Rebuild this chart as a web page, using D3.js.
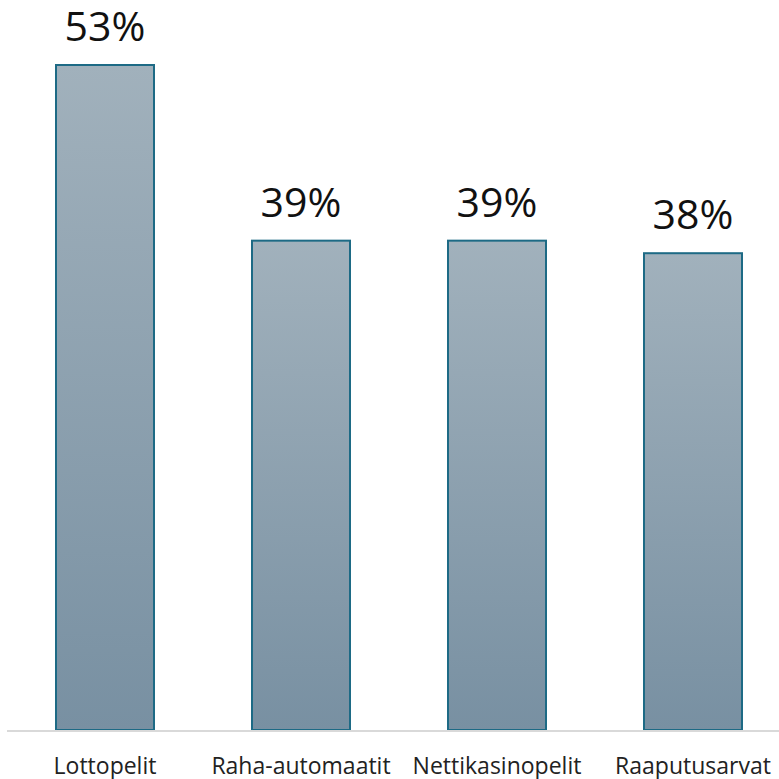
<!DOCTYPE html>
<html lang="fi">
    <head>
        <meta charset="utf-8">
        <title>Pelit</title>
        <script type="text/javascript" src="https://d3js.org/d3.v7.min.js"></script>
        <style type="text/css">
            body { margin: 0; background: #fff; }
        </style>
    </head>
    <body>
        <div id="chart"></div>
        <script type="text/javascript">

            // data
            var categories = ["Lottopelit", "Raha-automaatit", "Nettikasinopelit", "Raaputusarvat"];
            var values = [53, 39, 39, 38];

            var W = 779, H = 779;
            var margin = {top: 0, right: 0, bottom: 49, left: 7};
            var width = W - margin.left - margin.right,
                height = H - margin.top - margin.bottom;

            var svg = d3.select("#chart")
                .append("svg")
                    .attr("width", W)
                    .attr("height", H)
                    .style("font-family", "'Open Sans', 'Noto Sans', sans-serif");

            var defs = svg.append("defs");
            var grad = defs.append("linearGradient")
                .attr("id", "barGrad")
                .attr("x1", 0).attr("y1", 0).attr("x2", 0).attr("y2", 1);
            grad.append("stop").attr("offset", "0%").attr("stop-color", "#a1b1bc");
            grad.append("stop").attr("offset", "100%").attr("stop-color", "#7890a2");

            var g = svg.append("g")
                .attr("transform", "translate(" + margin.left + "," + margin.top + ")");

            var x = d3.scaleBand()
                .domain(categories)
                .range([0, 784])
                .paddingInner(0.5)
                .paddingOuter(0.25);

            var y = d3.scaleLinear()
                .domain([0, 53])
                .range([height, 65]);

            // bars
            g.selectAll("rect.bar")
                .data(values)
                .enter().append("rect")
                    .attr("class", "bar")
                    .attr("x", function(d, i) { return x(categories[i]); })
                    .attr("y", function(d) { return y(d); })
                    .attr("width", x.bandwidth())
                    .attr("height", function(d) { return height - y(d); })
                    .attr("fill", "url(#barGrad)")
                    .attr("stroke", "#1d6a85")
                    .attr("stroke-width", 2);

            // baseline
            g.append("line")
                .attr("x1", 0).attr("x2", W)
                .attr("y1", height + 1).attr("y2", height + 1)
                .attr("stroke", "#d9d9d9")
                .attr("stroke-width", 2);

            // value labels
            g.selectAll("text.val")
                .data(values)
                .enter().append("text")
                    .attr("class", "val")
                    .attr("x", function(d, i) { return x(categories[i]) + x.bandwidth() / 2; })
                    .attr("y", function(d) { return y(d) - 24; })
                    .attr("text-anchor", "middle")
                    .attr("font-size", 41)
                    .attr("fill", "#111")
                    .text(function(d) { return d + "%"; });

            // category labels
            var xAxis = g.append("g")
                .attr("transform", "translate(0," + height + ")")
                .call(d3.axisBottom(x).tickSize(0).tickPadding(0));
            xAxis.select(".domain").remove();
            xAxis.selectAll("text")
                .attr("dy", null)
                .attr("y", 44)
                .attr("font-size", 23)
                .attr("font-family", "'Open Sans', 'Noto Sans', sans-serif")
                .attr("fill", "#222");
        </script>
    </body>
</html>
